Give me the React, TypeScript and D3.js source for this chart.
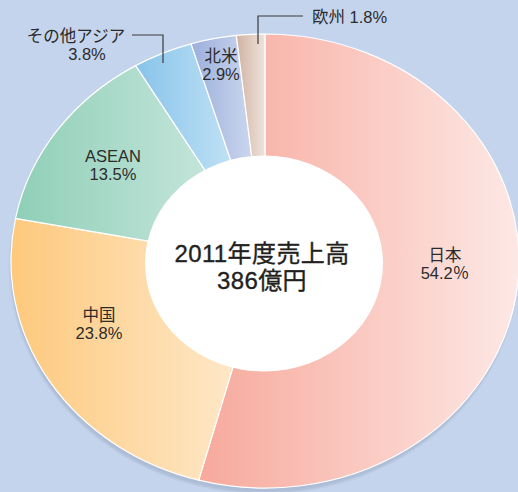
import React from "react";
import * as d3 from "d3";

// sales share by region, FY2011
const regions = ["日本", "中国", "ASEAN", "その他アジア", "北米", "欧州"];
const shares = [54.2, 23.8, 13.5, 3.8, 2.9, 1.8];
const shareLabels = ["54.2％", "23.8%", "13.5%", "3.8%", "2.9%", "1.8%"];
const centerLines = ["2011年度売上高", "386億円"];

// gradient colours (left -> right) for each slice
const colorFrom = ["#f7a99c", "#fdc97d", "#8fcfb7", "#88c3ea", "#9cafdc", "#d1b2a2"];
const colorTo = ["#fde8e5", "#fee8c9", "#c6e6dc", "#c3e3f5", "#cdd8ef", "#eee3dc"];

const W = 518;
const H = 492;
const cx = 265;
const cy = 261;
const rx = 254;
const ry = 227;

// where each label sits (annotation layout)
const labelLayout = [
  { x: 445, y: 261, mode: "two" },
  { x: 99, y: 321, mode: "two" },
  { x: 113, y: 162, mode: "two" },
  { x: 76, y: 42, mode: "two", leader: [[132, 35], [163, 35], [163, 63]], subX: 87 },
  { x: 221, y: 62, mode: "two" },
  { x: 312, y: 23, mode: "inline", leader: [[303, 16], [258, 16], [258, 44]] },
];

const fontJP = "'Liberation Sans', 'Noto Sans CJK JP', sans-serif";

export default function App() {
  const pie = d3
    .pie<number>()
    .value((d) => d)
    .sort(null);
  const arcs = pie(shares);
  const arc = d3.arc<d3.PieArcDatum<number>>().innerRadius(95).outerRadius(rx);
  const sy = ry / rx;

  return (
    <svg
      width={W}
      height={H}
      style={{ position: "absolute", left: 0, top: 0, display: "block" }}
    >
      <defs>
        {arcs.map((a, i) => (
          <linearGradient key={i} id={`g${i}`} x1="0" y1="0" x2="1" y2="0">
            <stop offset="0" stopColor={colorFrom[i]} />
            <stop offset="1" stopColor={colorTo[i]} />
          </linearGradient>
        ))}
        <filter id="blur" x="-10%" y="-10%" width="120%" height="120%">
          <feGaussianBlur stdDeviation="1.2" />
        </filter>
      </defs>
      <rect width={W} height={H} fill="#c5d4ed" />

      {/* drop shadow */}
      <ellipse
        cx={cx - 1}
        cy={cy + 5}
        rx={rx}
        ry={ry}
        fill="#adbdd6"
        filter="url(#blur)"
      />

      <g transform={`translate(${cx},${cy}) scale(1,${sy})`}>
        {arcs.map((a, i) => (
          <path
            key={regions[i]}
            d={arc(a) || ""}
            fill={`url(#g${i})`}
            stroke="#ffffff"
            strokeWidth={1.2}
            vectorEffect="non-scaling-stroke"
          />
        ))}
      </g>

      {/* centre hole */}
      <ellipse cx={cx - 1} cy={cy + 2.5} rx={119} ry={108} fill="#ffffff" />

      <g
        fontFamily={fontJP}
        fill="#231f20"
        stroke="#231f20"
        strokeWidth={0.35}
        textAnchor="middle"
        letterSpacing={0.4}
      >
        {centerLines.map((t, i) => (
          <text key={t} x={cx - 3} y={262 + i * 27} fontSize={24}>
            {t}
          </text>
        ))}
      </g>

      <g fontFamily={fontJP} fill="#2b2b2b" fontSize={16.5}>
        {labelLayout.map((l, i) => {
          const leader = l.leader ? (
            <path
              d={d3.line()(l.leader as [number, number][]) || ""}
              fill="none"
              stroke="#3a3a3a"
              strokeWidth={1.2}
            />
          ) : null;
          if (l.mode === "inline") {
            return (
              <g key={i}>
                {leader}
                <text x={l.x} y={l.y} textAnchor="start">
                  {`${regions[i]} ${shareLabels[i]}`}
                </text>
              </g>
            );
          }
          return (
            <g key={i}>
              {leader}
              <text x={l.x} y={l.y} textAnchor="middle">
                {regions[i]}
              </text>
              <text x={l.subX ?? l.x} y={l.y + 18} textAnchor="middle">
                {shareLabels[i]}
              </text>
            </g>
          );
        })}
      </g>
    </svg>
  );
}
